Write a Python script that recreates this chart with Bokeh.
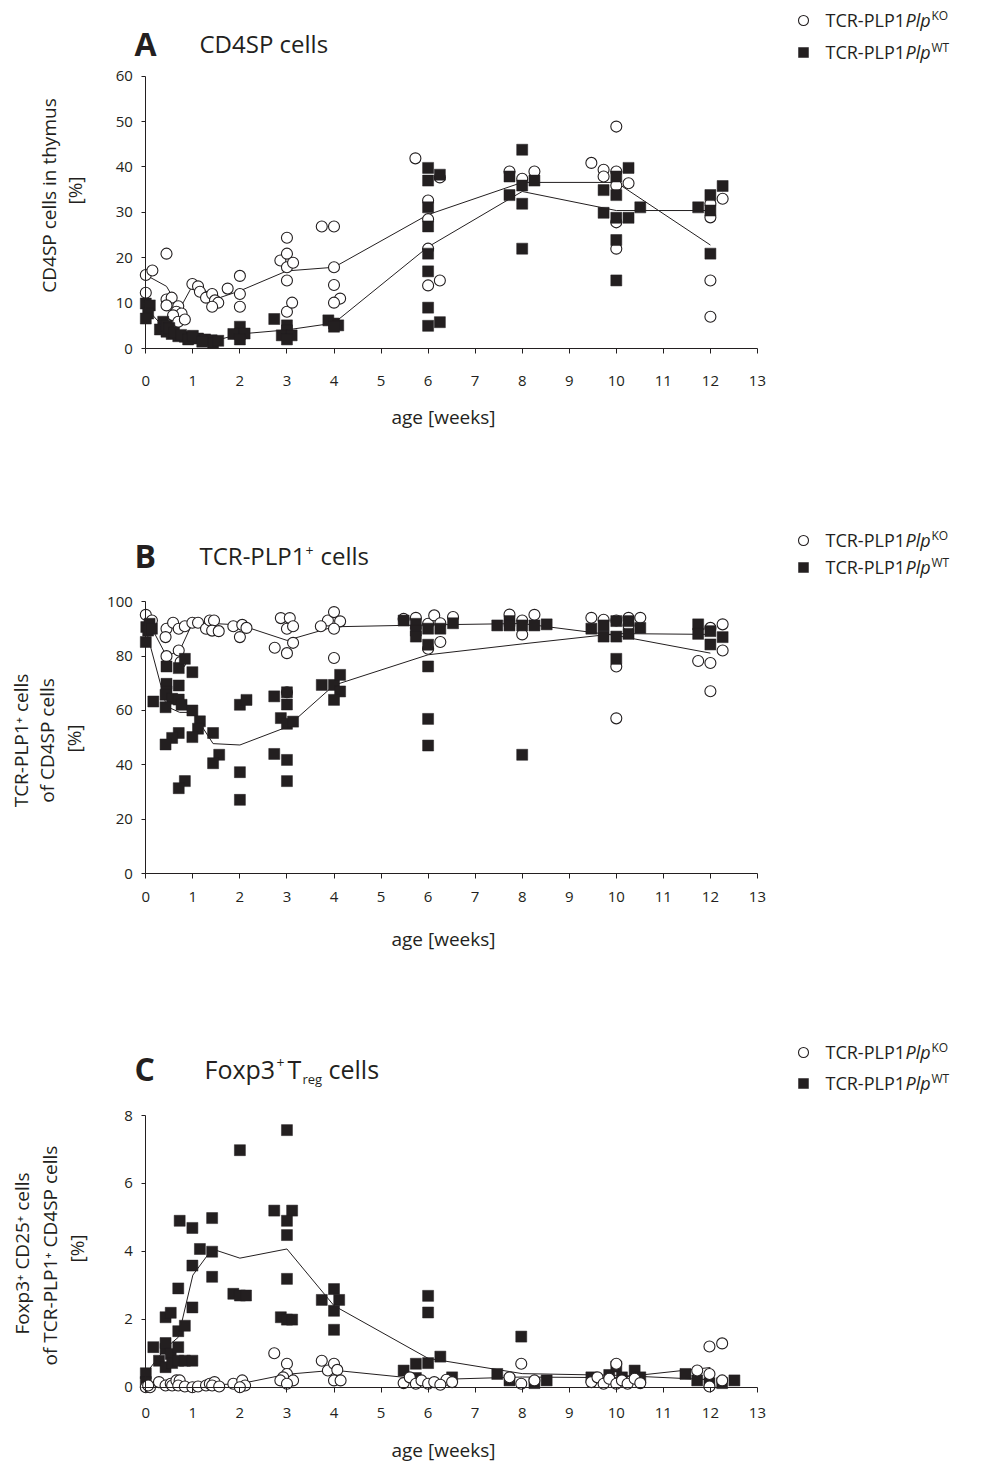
import math
from bokeh.plotting import figure
from bokeh.models import Range1d, FixedTicker, Label
from bokeh.layouts import column
from bokeh.embed import file_html
from bokeh.resources import INLINE

# ---------------- data ----------------
WEEK_TICKS = list(range(0, 14))

# Panel A: CD4SP cells in thymus [%]
A_KO_X = [0, 0.14, 0, 0.44, 0.44, 0.55, 0.44, 0.69, 0.65, 0.76, 0.58, 0.69, 0.83, 0.99, 1.11, 1.15, 1.28, 1.41, 1.47, 1.54, 1.41, 1.74, 2.0, 2.0, 2.0, 2.86, 3.0, 3.0, 3.0, 3.13, 3.0, 3.0, 3.11, 3.74, 4.0, 4.0, 4.0, 4.13, 4.0, 5.73, 6.0, 6.0, 6.0, 6.0, 6.25, 6.25, 7.73, 8.0, 8.26, 9.47, 9.73, 9.73, 10.0, 10.0, 10.0, 10.26, 10.0, 10.0, 12.0, 12.0, 12.26, 12.0, 12.0]
A_KO_Y = [16.2, 17.2, 12.3, 20.9, 10.8, 11.2, 9.5, 9.3, 8.1, 7.7, 7.3, 5.9, 6.4, 14.2, 13.7, 12.5, 11.2, 12.0, 10.6, 10.1, 9.2, 13.2, 16.0, 12.0, 9.2, 19.4, 24.4, 20.9, 17.9, 18.9, 15.0, 8.1, 10.1, 26.9, 26.9, 17.9, 14.0, 11.0, 10.1, 41.9, 32.6, 28.5, 22.0, 13.9, 15.0, 37.7, 39.0, 37.4, 39.0, 40.9, 39.4, 37.9, 48.9, 39.0, 35.9, 36.4, 27.8, 22.0, 31.9, 28.9, 33.0, 15.0, 7.0]
A_WT_X = [0, 0.085, 0.05, 0, 0.37, 0.3, 0.44, 0.55, 0.69, 0.83, 0.97, 1.11, 1.26, 1.40, 1.43, 1.54, 0.44, 0.5, 0.6, 0.75, 0.9, 1.0, 1.2, 2.0, 2.0, 1.86, 2.1, 2.0, 2.73, 3.0, 3.0, 2.89, 3.1, 3.0, 3.88, 4.0, 4.09, 4.0, 6.0, 6.0, 6.25, 6.0, 6.0, 6.0, 6.0, 6.0, 6.0, 6.25, 8.0, 7.73, 8.0, 8.26, 7.73, 8.0, 8.0, 10.26, 9.73, 10.0, 10.0, 9.73, 10.0, 10.26, 10.51, 10.0, 10.0, 11.74, 12.0, 12.26, 12.0, 12.0]
A_WT_Y = [9.9, 9.5, 7.7, 6.6, 5.9, 4.2, 3.7, 3.2, 2.7, 2.6, 2.4, 2.2, 2.0, 1.8, 1.2, 1.7, 5.0, 4.5, 3.5, 3.0, 2.0, 2.8, 1.5, 4.8, 3.2, 3.2, 3.3, 2.0, 6.5, 5.1, 4.0, 2.9, 2.9, 2.0, 6.2, 5.5, 5.1, 4.8, 39.8, 37.0, 38.3, 31.1, 26.9, 20.9, 17.0, 9.0, 5.0, 5.8, 43.8, 37.9, 35.9, 37.0, 33.8, 31.9, 22.0, 39.8, 34.9, 37.9, 33.8, 29.9, 28.8, 28.8, 31.1, 23.9, 15.0, 31.1, 33.8, 35.8, 30.4, 20.9]
A_KO_MEAN_X = [0, 0.44, 0.72, 1.0, 1.57, 2, 3, 4, 6, 8, 10, 12]
A_KO_MEAN_Y = [16.2, 13.7, 8.7, 14.0, 11.2, 12.7, 17.1, 17.9, 29.5, 36.6, 36.6, 22.8]
A_WT_MEAN_X = [0, 0.44, 0.72, 1.0, 1.43, 2, 3, 4, 6, 8, 10, 12]
A_WT_MEAN_Y = [9.0, 4.0, 2.8, 2.3, 1.6, 3.2, 4.1, 5.6, 22.4, 34.6, 30.4, 30.4]

# Panel B: TCR-PLP1+ cells of CD4SP cells [%]
B_KO_X = [0, 0.13, 0.44, 0.42, 0.58, 0.70, 0.83, 0.99, 1.11, 1.28, 1.36, 1.45, 1.41, 1.55, 1.86, 2.05, 2.14, 2.0, 2.87, 3.06, 3.0, 3.13, 2.74, 3.0, 3.13, 3.87, 4.0, 4.13, 3.72, 4.0, 4.0, 0.44, 0.70, 0.74, 3.0, 5.48, 5.74, 6.0, 6.13, 6.26, 6.26, 6.0, 6.53, 7.73, 8.0, 8.0, 8.26, 9.47, 9.73, 10.0, 10.26, 10.51, 10.26, 10.0, 10.0, 12.0, 12.26, 12.26, 11.74, 12.0, 12.0]
B_KO_Y = [95.2, 93.1, 90.1, 87.0, 92.3, 90.1, 91.0, 92.3, 92.3, 90.1, 93.1, 93.1, 89.4, 89.2, 91.0, 91.5, 90.4, 87.0, 94.0, 94.0, 90.1, 91.0, 83.1, 81.1, 84.9, 93.1, 96.2, 92.8, 91.0, 90.1, 79.3, 80.0, 82.1, 77.8, 66.7, 93.7, 94.1, 91.9, 95.0, 92.1, 85.2, 82.7, 94.4, 95.3, 93.1, 88.0, 95.2, 94.1, 93.4, 93.1, 94.1, 94.1, 91.3, 76.2, 57.1, 90.4, 91.7, 82.1, 78.2, 77.5, 67.1]
B_WT_X = [0.01, 0.08, 0.05, 0.13, 0, 0.16, 0.44, 0.44, 0.44, 0.42, 0.70, 0.83, 0.99, 0.70, 0.56, 0.70, 0.76, 0.42, 0.99, 1.15, 1.11, 0.99, 1.43, 0.70, 0.56, 0.42, 1.56, 1.43, 0.83, 0.70, 2.0, 2.14, 2.0, 2.0, 3.0, 3.0, 2.73, 2.87, 3.0, 3.13, 2.73, 3.0, 3.0, 3.74, 4.0, 4.13, 4.13, 4.0, 5.48, 5.74, 5.74, 5.74, 6.0, 6.0, 6.0, 6.0, 6.0, 6.26, 6.53, 7.47, 7.73, 7.73, 8.0, 8.26, 8.52, 8.0, 9.47, 9.73, 9.73, 10.0, 10.0, 10.26, 10.26, 10.51, 10.0, 11.74, 11.74, 12.0, 12.26, 12.0]
B_WT_Y = [90.7, 91.9, 89.4, 90.1, 85.2, 63.3, 76.2, 69.8, 67.0, 65.8, 75.6, 79.0, 74.1, 69.2, 64.3, 64.0, 62.1, 61.2, 60.0, 56.0, 53.3, 50.2, 51.7, 51.7, 49.9, 47.5, 43.7, 40.6, 34.0, 31.4, 62.1, 63.9, 37.3, 27.1, 66.7, 62.2, 65.2, 57.2, 55.1, 55.9, 44.0, 41.8, 34.0, 69.4, 69.4, 73.1, 67.0, 63.9, 93.1, 91.9, 89.4, 87.2, 90.1, 84.2, 76.2, 56.9, 47.1, 90.1, 92.1, 91.3, 92.9, 91.3, 91.3, 91.3, 91.7, 43.7, 90.1, 91.3, 87.2, 92.9, 87.2, 92.9, 88.2, 90.4, 79.0, 91.7, 88.2, 89.2, 87.0, 84.3]
B_KO_MEAN_X = [0, 0.44, 0.72, 1.0, 1.43, 2, 3, 4, 6, 8, 10, 12]
B_KO_MEAN_Y = [94.5, 80.0, 82.0, 92.5, 92.0, 91.5, 85.8, 90.8, 91.5, 92.0, 87.6, 81.1]
B_WT_MEAN_X = [0, 0.44, 0.72, 1.0, 1.43, 2, 3, 4, 6, 8, 10, 12]
B_WT_MEAN_Y = [90.0, 61.5, 59.3, 59.3, 47.8, 47.3, 53.9, 69.3, 80.5, 84.5, 88.3, 88.0]

# Panel C: Foxp3+ CD25+ cells of TCR-PLP1+ CD4SP cells [%]
C_KO_X = [0, 0.09, 0.05, 0.28, 0.42, 0.53, 0.56, 0.65, 0.72, 0.69, 0.83, 0.99, 1.11, 1.28, 1.36, 1.46, 1.41, 1.56, 1.86, 2.05, 2.11, 2.0, 2.73, 3.0, 3.0, 2.92, 3.13, 2.86, 3.0, 3.74, 3.87, 4.0, 4.07, 4.0, 4.14, 5.48, 5.61, 5.74, 5.86, 6.0, 6.13, 6.39, 6.26, 6.51, 7.73, 7.98, 7.98, 8.26, 9.47, 9.6, 9.73, 9.85, 10.0, 10.0, 10.12, 10.24, 10.39, 10.51, 11.72, 11.98, 12.25, 11.98, 11.98, 12.25]
C_KO_Y = [0.0, 0.0, 0.05, 0.15, 0.05, 0.10, 0.05, 0.20, 0.20, 0.05, 0.02, 0.0, 0.02, 0.05, 0.10, 0.15, 0.05, 0.02, 0.10, 0.20, 0.05, 0.0, 1.0, 0.69, 0.39, 0.29, 0.20, 0.20, 0.10, 0.78, 0.49, 0.69, 0.51, 0.20, 0.20, 0.12, 0.29, 0.10, 0.20, 0.10, 0.15, 0.22, 0.07, 0.15, 0.29, 0.69, 0.10, 0.20, 0.15, 0.29, 0.10, 0.25, 0.69, 0.10, 0.20, 0.10, 0.25, 0.12, 0.49, 1.20, 1.29, 0.39, 0.02, 0.20]
C_WT_X = [0, 0, 0.16, 0.28, 0.42, 0.53, 0.42, 0.42, 0.42, 0.53, 0.56, 0.69, 0.69, 0.83, 0.69, 0.72, 0.99, 1.15, 0.99, 0.99, 1.41, 1.41, 1.41, 0.69, 0.83, 0.99, 1.86, 2.0, 2.13, 2.0, 2.73, 3.11, 3.0, 3.0, 3.0, 2.87, 3.0, 3.11, 3.0, 4.0, 3.74, 4.11, 4.0, 4.0, 6.0, 6.0, 5.74, 5.48, 6.26, 6.0, 5.74, 6.51, 7.47, 7.73, 7.98, 8.26, 8.52, 9.47, 9.85, 10.0, 10.12, 10.39, 10.51, 11.47, 11.72, 11.98, 12.25, 12.51]
C_WT_Y = [0.41, 0.15, 1.18, 0.78, 2.06, 2.19, 1.13, 1.30, 0.59, 0.98, 0.71, 1.18, 1.65, 1.81, 2.91, 4.90, 4.69, 4.07, 3.58, 2.35, 4.98, 3.99, 3.25, 0.78, 0.78, 0.78, 2.75, 2.70, 2.70, 6.98, 5.20, 5.20, 4.90, 4.48, 3.19, 2.06, 1.99, 1.99, 7.57, 2.89, 2.57, 2.57, 2.25, 1.69, 2.69, 2.20, 0.69, 0.49, 0.90, 0.71, 0.27, 0.29, 0.39, 0.20, 1.49, 0.12, 0.20, 0.29, 0.36, 0.61, 0.29, 0.49, 0.29, 0.39, 0.20, 0.12, 0.12, 0.20]
C_KO_MEAN_X = [0, 0.42, 0.69, 1.0, 1.41, 2, 3, 4, 6, 8, 10, 12]
C_KO_MEAN_Y = [0.03, 0.08, 0.1, 0.05, 0.07, 0.1, 0.38, 0.5, 0.22, 0.3, 0.28, 0.58]
C_WT_MEAN_X = [0, 0.42, 0.69, 1.0, 1.41, 2, 3, 4, 6, 8, 10, 12]
C_WT_MEAN_Y = [0.4, 1.15, 1.47, 3.3, 4.07, 3.8, 4.07, 2.4, 0.85, 0.4, 0.35, 0.22]

# ---------------- styling / layout ----------------
FONT = "Open Sans"
INK = "#231f20"
W = 987
PAGE_LEFT = 0
X0_PX = 145.3      # page x of week 0
PX_PER_WEEK = 47.05


def make_panel(top, height, y0_px, px_per_unit, yticks, ymax, xlab_standoff,
               ko_x, ko_y, wt_x, wt_y, ko_mx, ko_my, wt_mx, wt_my,
               circles_on_top):
    xs = (PAGE_LEFT - X0_PX) / PX_PER_WEEK
    xe = (PAGE_LEFT + W - X0_PX) / PX_PER_WEEK
    ys = (y0_px - (top + height)) / px_per_unit
    ye = (y0_px - top) / px_per_unit
    p = figure(width=W, height=height, x_range=Range1d(xs, xe), y_range=Range1d(ys, ye),
               output_backend="svg", toolbar_location=None,
               min_border_left=0, min_border_right=0, min_border_top=0, min_border_bottom=0)
    p.outline_line_color = None
    p.grid.visible = False

    xa = p.xaxis[0]
    xa.fixed_location = 0
    xa.bounds = (0, 13)
    xa.ticker = FixedTicker(ticks=WEEK_TICKS)
    ya = p.yaxis[0]
    ya.fixed_location = 0
    ya.bounds = (0, ymax)
    ya.ticker = FixedTicker(ticks=yticks)
    for ax in (xa, ya):
        ax.axis_line_color = INK
        ax.axis_line_width = 1
        ax.major_tick_line_color = INK
        ax.major_tick_in = 0
        ax.minor_tick_line_color = None
        ax.major_label_text_font = FONT
        ax.major_label_text_font_size = "15px"
        ax.major_label_text_color = INK
    xa.major_tick_out = 5
    ya.major_tick_out = 4
    xa.major_label_standoff = xlab_standoff
    ya.major_label_standoff = 9

    p.line(ko_mx, ko_my, line_color=INK, line_width=1)
    p.line(wt_mx, wt_my, line_color=INK, line_width=1)

    def circles():
        p.scatter(ko_x, ko_y, marker="circle", size=11, fill_color="white",
                  line_color=INK, line_width=1.1)

    def squares():
        p.scatter(wt_x, wt_y, marker="square", size=11, fill_color=INK,
                  line_color=INK, line_width=0.5)

    if circles_on_top:
        squares(); circles()
    else:
        circles(); squares()

    fx = lambda X: (X - X0_PX) / PX_PER_WEEK
    fy = lambda Y: (y0_px - Y) / px_per_unit
    return p, fx, fy


def label(p, fx, fy, X, Y, text, size, align="left", baseline="middle", style="normal",
          angle=0.0):
    p.add_layout(Label(x=fx(X), y=fy(Y), text=text, text_font=FONT,
                       text_font_size=f"{size}px", text_font_style=style,
                       text_color=INK, text_align=align, text_baseline=baseline,
                       angle=angle))


def legend(p, fx, fy, y_ko, y_wt):
    p.scatter([fx(803)], [fy(y_ko)], marker="circle", size=10, fill_color="white",
              line_color=INK, line_width=1.1)
    p.scatter([fx(803)], [fy(y_wt)], marker="square", size=10, fill_color=INK,
              line_color=INK, line_width=0.5)
    for yy, sup in ((y_ko, "KO"), (y_wt, "WT")):
        base = yy - 0.5
        label(p, fx, fy, 825, base, "TCR-PLP1", 18, baseline="alphabetic")
        label(p, fx, fy, 905, base, "Plp", 18, baseline="alphabetic", style="italic")
        label(p, fx, fy, 931, yy - 5.5, sup, 12, baseline="alphabetic")


def ylabel(p, fx, fy, lines):
    for (X, Y, t) in lines:
        label(p, fx, fy, X, Y, t, 19, align="center", angle=math.pi / 2)


# ---- Panel A ----
pA, fxA, fyA = make_panel(0, 470, 348.0, 4.538, [0, 10, 20, 30, 40, 50, 60], 60, 22,
                          A_KO_X, A_KO_Y, A_WT_X, A_WT_Y,
                          A_KO_MEAN_X, A_KO_MEAN_Y, A_WT_MEAN_X, A_WT_MEAN_Y, False)
label(pA, fxA, fyA, 134, 43, "A", 32, style="bold")
label(pA, fxA, fyA, 199, 43, "CD4SP cells", 24)
legend(pA, fxA, fyA, 20, 52)
ylabel(pA, fxA, fyA, [(48, 195, "CD4SP cells in thymus"), (74, 190, "[%]")])
label(pA, fxA, fyA, 443, 416, "age [weeks]", 19, align="center")

# ---- Panel B ----
pB, fxB, fyB = make_panel(470, 515, 873.0, 2.717, [0, 20, 40, 60, 80, 100], 100, 13,
                          B_KO_X, B_KO_Y, B_WT_X, B_WT_Y,
                          B_KO_MEAN_X, B_KO_MEAN_Y, B_WT_MEAN_X, B_WT_MEAN_Y, False)
label(pB, fxB, fyB, 134, 555, "B", 32, style="bold")
label(pB, fxB, fyB, 199, 555, "TCR-PLP1", 24)
label(pB, fxB, fyB, 305, 550, "+", 14)
label(pB, fxB, fyB, 320, 555, "cells", 24)
legend(pB, fxB, fyB, 540, 567)
ylabel(pB, fxB, fyB, [(20, 740, "TCR-PLP1\u207a cells"), (46, 740, "of CD4SP cells"),
                      (73, 738, "[%]")])
label(pB, fxB, fyB, 443, 938, "age [weeks]", 19, align="center")

# ---- Panel C ----
pC, fxC, fyC = make_panel(985, 478, 1386.7, 33.96, [0, 2, 4, 6, 8], 8, 16,
                          C_KO_X, C_KO_Y, C_WT_X, C_WT_Y,
                          C_KO_MEAN_X, C_KO_MEAN_Y, C_WT_MEAN_X, C_WT_MEAN_Y, True)
label(pC, fxC, fyC, 134, 1068, "C", 32, style="bold")
label(pC, fxC, fyC, 204, 1068, "Foxp3", 25)
label(pC, fxC, fyC, 276, 1062, "+", 14)
label(pC, fxC, fyC, 287, 1068, "T", 25)
label(pC, fxC, fyC, 302, 1078, "reg", 13)
label(pC, fxC, fyC, 328, 1068, "cells", 25)
legend(pC, fxC, fyC, 1052, 1083)
ylabel(pC, fxC, fyC, [(21, 1253, "Foxp3\u207a CD25\u207a cells"),
                      (49, 1255, "of TCR-PLP1\u207a CD4SP cells"),
                      (76, 1248, "[%]")])
label(pC, fxC, fyC, 443, 1449, "age [weeks]", 19, align="center")

layout = column(pA, pB, pC)
open("out.html", "w").write(file_html(layout, INLINE))
